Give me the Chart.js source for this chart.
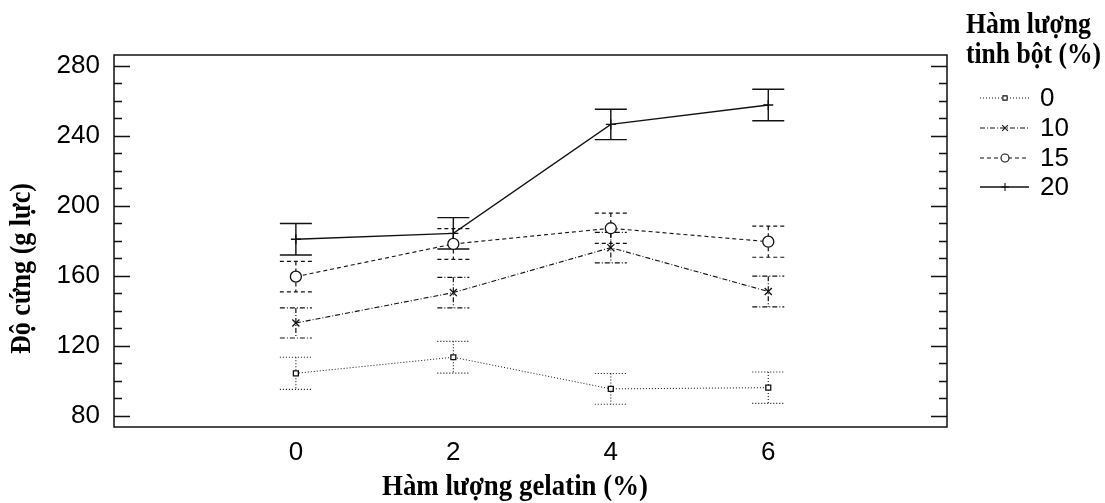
<!DOCTYPE html>
<html>
<head>
<meta charset="utf-8">
<script src="https://cdn.jsdelivr.net/npm/chart.js@4.4.1/dist/chart.umd.min.js"></script>
<style>
  html, body { margin: 0; padding: 0; background: #fff; }
  #wrap { width: 1105px; height: 503px; position: relative; }
</style>
</head>
<body>
<div id="wrap"><canvas id="chart"></canvas></div>
<script>
'use strict';

/* Data: hardness (g force) vs gelatin %, one series per starch % */
const GELATIN = [0, 2, 4, 6];
const STARCH = ['0', '10', '15', '20'];
const MEAN_0 = [104.2, 113.4, 95.3, 96.0];
const MEAN_10 = [133.0, 150.4, 176.1, 151.0];
const MEAN_15 = [159.5, 178.2, 187.2, 179.5];
const MEAN_20 = [180.9, 184.3, 246.6, 257.7];
const ERR_0 = [9.2, 9.1, 8.8, 9.0];
const ERR_10 = [8.6, 8.7, 8.7, 8.8];
const ERR_15 = [8.7, 8.8, 8.7, 8.9];
const ERR_20 = [9.0, 9.0, 8.7, 9.0];
const Y_TICKS = [80, 120, 160, 200, 240, 280];

const NUM_FONT = "'Liberation Sans Narrow', 'Arial Narrow', 'Liberation Sans', Arial, sans-serif";
const SERIF_FONT = "'Liberation Serif', 'Times New Roman', serif";

// nét vẽ cho từng chuỗi: chấm, chấm-gạch, gạch, liền
const STYLES = [
  { dash: [1, 2], point: 'rect', radius: 3.5, width: 1 },
  { dash: [5, 2, 1, 2], point: 'crossRot', radius: 5, width: 1.1 },
  { dash: [4, 3], point: 'circle', radius: 5.5, width: 1.1 },
  { dash: [], point: 'cross', radius: 5, width: 1.3 },
];

const MEANS = [MEAN_0, MEAN_10, MEAN_15, MEAN_20];
const ERRS = [ERR_0, ERR_10, ERR_15, ERR_20];

const datasets = STARCH.map((label, i) => ({
  label,
  data: GELATIN.map((g, j) => ({ x: g, y: MEANS[i][j] })),
  errors: ERRS[i],
  borderColor: '#111',
  borderWidth: STYLES[i].width,
  borderDash: STYLES[i].dash,
  pointStyle: STYLES[i].point,
  pointRadius: STYLES[i].radius,
  pointBorderColor: '#111',
  pointBorderWidth: 1.3,
  pointBackgroundColor: '#fff',
  tension: 0,
}));

// chữ đậm kiểu Times, hơi hẹp như ảnh gốc: ép ngang cho vừa bề rộng đích
function fitText(ctx, text, x, y, width) {
  const w = ctx.measureText(text).width;
  const s = Math.min(1, width / w);
  ctx.save();
  ctx.translate(x, y);
  ctx.scale(s, 1);
  ctx.fillText(text, 0, 0);
  ctx.restore();
}

/* Plot decorations: frame, inward ticks, error bars, titles, legend */
const decorations = {
  id: 'decorations',
  beforeDatasetsDraw(chart) {
    const { ctx, scales: { x, y } } = chart;
    ctx.save();
    ctx.strokeStyle = '#111';
    chart.data.datasets.forEach((ds, i) => {
      ctx.lineWidth = STYLES[i].width + 0.1;
      ctx.setLineDash(STYLES[i].dash);
      ds.data.forEach((p, j) => {
        const px = x.getPixelForValue(p.x);
        const top = y.getPixelForValue(p.y + ds.errors[j]);
        const bot = y.getPixelForValue(p.y - ds.errors[j]);
        ctx.beginPath();
        ctx.moveTo(px, top); ctx.lineTo(px, bot);
        ctx.moveTo(px - 16, top); ctx.lineTo(px + 16, top);
        ctx.moveTo(px - 16, bot); ctx.lineTo(px + 16, bot);
        ctx.stroke();
      });
    });
    ctx.restore();
  },
  afterDraw(chart) {
    const { ctx, chartArea: a, scales: { y } } = chart;
    ctx.save();
    ctx.strokeStyle = '#111';
    ctx.setLineDash([]);
    ctx.lineWidth = 1.5;
    ctx.strokeRect(a.left, a.top, a.right - a.left, a.bottom - a.top);

    // major + minor ticks pointing into the plot, both sides
    for (let v = Y_TICKS[0]; v <= Y_TICKS[Y_TICKS.length - 1]; v += 10) {
      const py = Math.round(y.getPixelForValue(v)) + 0.5;
      const len = Y_TICKS.includes(v) ? 16 : 8;
      ctx.beginPath();
      ctx.moveTo(a.left, py); ctx.lineTo(a.left + len, py);
      ctx.moveTo(a.right, py); ctx.lineTo(a.right - len, py);
      ctx.stroke();
    }

    // axis titles
    ctx.fillStyle = '#000';
    ctx.font = `bold 29px ${SERIF_FONT}`;
    ctx.textAlign = 'left';
    ctx.textBaseline = 'alphabetic';
    fitText(ctx, 'Hàm lượng gelatin (%)', 382, 495, 266);
    ctx.save();
    ctx.translate(30, 354);
    ctx.rotate(-Math.PI / 2);
    fitText(ctx, 'Độ cứng (g lực)', 0, 0, 171);
    ctx.restore();

    // legend
    ctx.font = `bold 30px ${SERIF_FONT}`;
    fitText(ctx, 'Hàm lượng', 966, 33, 125);
    fitText(ctx, 'tinh bột (%)', 966, 63, 135);
    const rows = [98, 128, 158, 187];
    ctx.font = `26px ${NUM_FONT}`;
    ctx.textBaseline = 'middle';
    chart.data.datasets.forEach((ds, i) => {
      const ly = rows[i];
      ctx.lineWidth = STYLES[i].width;
      ctx.setLineDash(STYLES[i].dash);
      ctx.beginPath();
      ctx.moveTo(980, ly); ctx.lineTo(1029, ly);
      ctx.stroke();
      ctx.setLineDash([]);
      ctx.lineWidth = 1.1;
      ctx.fillStyle = '#fff';
      const pr = STYLES[i].point === 'rect' ? 3 : 4;
      Chart.helpers.drawPoint(ctx, { pointStyle: STYLES[i].point, radius: pr, borderWidth: 1.1 }, 1005, ly);
      ctx.fillStyle = '#000';
      ctx.fillText(ds.label, 1040, ly + 1);
    });
    ctx.restore();
  },
};

new Chart(document.getElementById('chart'), {
  type: 'line',
  data: { datasets },
  options: {
    responsive: true,
    maintainAspectRatio: false,
    animation: false,
    layout: { padding: { left: 0, right: 158, top: 55, bottom: 0 } },
    plugins: { legend: { display: false }, tooltip: { enabled: false } },
    scales: {
      x: {
        type: 'linear',
        min: -2.31,
        max: 8.27,
        afterBuildTicks: axis => { axis.ticks = GELATIN.map(v => ({ value: v })); },
        afterFit: axis => { axis.height = 76; },
        grid: { display: false, drawTicks: false },
        border: { display: false },
        ticks: { color: '#000', padding: 10, font: { family: NUM_FONT, size: 26 } },
      },
      y: {
        type: 'linear',
        min: 73.5,
        max: 286.3,
        afterBuildTicks: axis => { axis.ticks = Y_TICKS.map(v => ({ value: v })); },
        afterFit: axis => { axis.width = 114; },
        grid: { display: false, drawTicks: false },
        border: { display: false },
        ticks: { color: '#000', padding: 14, font: { family: NUM_FONT, size: 26 } },
      },
    },
  },
  plugins: [decorations],
});
</script>
</body>
</html>
